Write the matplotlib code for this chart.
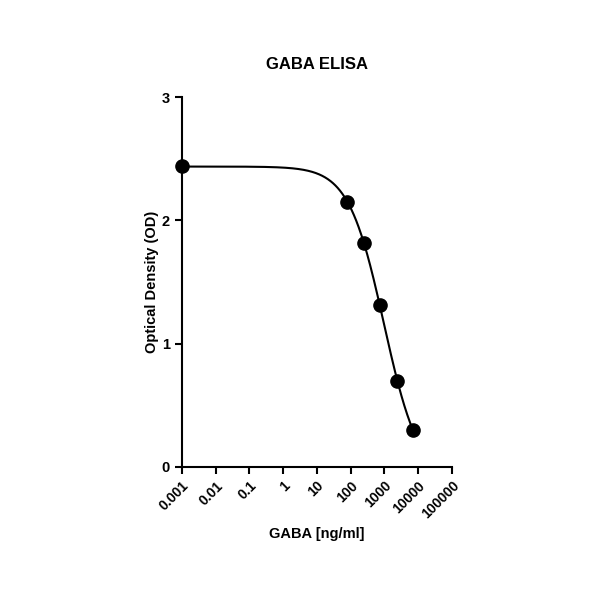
import numpy as np
import matplotlib.pyplot as plt

plt.rcParams['font.family'] = ['Liberation Sans', 'DejaVu Sans']

# standard points
conc = [0.001, 78, 250, 740, 2400, 7100]
od = [2.44, 2.15, 1.82, 1.31, 0.70, 0.30]

xticks = [0.001, 0.01, 0.1, 1, 10, 100, 1000, 10000, 100000]
xticklabels = ['0.001', '0.01', '0.1', '1', '10', '100', '1000', '10000', '100000']
yticks = [0, 1, 2, 3]

# 4PL fit: grid over EC50 and hill, top/bottom by least squares
x = np.array(conc)
y = np.array(od)
best = None
for lc in np.linspace(2, 4, 201):
    for h in np.linspace(0.4, 2.0, 161):
        s = 1 / (1 + (x / 10**lc)**h)
        A = np.column_stack([s, 1 - s])
        p, res, _, _ = np.linalg.lstsq(A, y, rcond=None)
        err = np.sum((A @ p - y)**2)
        if best is None or err < best[0]:
            best = (err, lc, h, p)
_, lc, h, (top, bottom) = best
xf = np.logspace(np.log10(conc[0]), np.log10(conc[-1]), 400)
sf = 1 / (1 + (xf / 10**lc)**h)
yf = top * sf + bottom * (1 - sf)

fig = plt.figure(figsize=(6, 6), dpi=100)
ax = fig.add_axes([0.303, 0.222, 0.45, 0.616])

ax.plot(xf, yf, color='black', lw=1.5, clip_on=False)
ax.plot(conc, od, 'o', color='black', ms=9.5, clip_on=False, zorder=3)

ax.set_xscale('log')
ax.set_xlim(0.001, 100000)
ax.set_ylim(0, 3)
ax.set_xticks(xticks)
ax.set_xticklabels(xticklabels, rotation=45, ha='right', rotation_mode='anchor',
                   fontweight='bold', fontsize=10)
ax.minorticks_off()
ax.set_yticks(yticks)
ax.set_yticklabels([str(t) for t in yticks], fontweight='bold', fontsize=10.5)

for s in ['top', 'right']:
    ax.spines[s].set_visible(False)
for s in ['left', 'bottom']:
    ax.spines[s].set_linewidth(1.5)
ax.tick_params(direction='out', length=5, width=1.5)

ax.set_title('GABA ELISA', fontweight='bold', fontsize=12, pad=20)
ax.set_xlabel('GABA [ng/ml]', fontweight='bold', fontsize=10.5, labelpad=4)
ax.set_ylabel('Optical Density (OD)', fontweight='bold', fontsize=10.5, labelpad=2)

fig.savefig('out.png', dpi=100, facecolor='white')
